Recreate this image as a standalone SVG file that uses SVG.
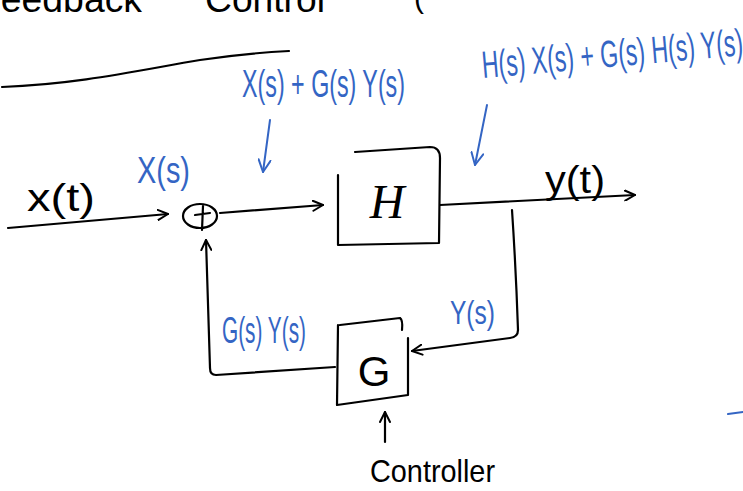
<svg xmlns="http://www.w3.org/2000/svg" width="743" height="491" viewBox="0 0 743 491">
<style>
.ink{fill:none;stroke:#000;stroke-width:2.2;stroke-linecap:round;stroke-linejoin:round}
.blue{fill:none;stroke:#3465c4;stroke-width:2;stroke-linecap:round;stroke-linejoin:round}
.t{font-family:"Liberation Sans",sans-serif;fill:#000}
.b{font-family:"Liberation Sans",sans-serif;fill:#3465c4}
</style>
<defs>
<marker id="ah" viewBox="0 0 12 12" refX="11" refY="6" markerWidth="12" markerHeight="12" markerUnits="userSpaceOnUse" orient="auto">
<path d="M1,1 L11,6 L1,11" fill="none" stroke="#000" stroke-width="2" stroke-linecap="round" stroke-linejoin="round"/>
</marker>
<marker id="bh" viewBox="0 0 14 14" refX="13" refY="7" markerWidth="14" markerHeight="14" markerUnits="userSpaceOnUse" orient="auto">
<path d="M1,1 L13,7 L1,13" fill="none" stroke="#3465c4" stroke-width="2" stroke-linecap="round" stroke-linejoin="round"/>
</marker>
</defs>

<g id="title">
<text class="t" x="-22" y="12" font-size="36" textLength="164" lengthAdjust="spacingAndGlyphs">Feedback</text>
<text class="t" x="205" y="12" font-size="36" textLength="120" lengthAdjust="spacingAndGlyphs">Control</text>
<text class="t" x="414" y="8" font-size="30">(</text>
<path class="ink" d="M2,87 C80,84 140,70 200,60 C240,54 270,52 289,51"/>
</g>

<g id="connectors">
<path class="ink" d="M8,228 L168,214" marker-end="url(#ah)"/>
<path class="ink" d="M220,213 L323,205" marker-end="url(#ah)"/>
<path class="ink" d="M440,205 L635,195" marker-end="url(#ah)"/>
<path class="ink" d="M512,210 Q516,270 518,330 Q518,337 510,338 L412,351" marker-end="url(#ah)"/>
<path class="ink" d="M335,367 L216,375 Q210,375 210,368 L206,240" marker-end="url(#ah)"/>
<path class="ink" d="M385,442 L385,412" marker-end="url(#ah)"/>
<path class="blue" d="M270,120 L263,172" marker-end="url(#bh)"/>
<path class="blue" d="M487,105 L475,165" marker-end="url(#bh)"/>
<path class="blue" d="M728,414 L743,412"/>
</g>

<g id="sum">
<ellipse class="ink" cx="200" cy="216" rx="17" ry="12"/>
<path class="ink" d="M203,206 L202,230 M195,215 L210,213"/>
</g>

<g id="H">
<path class="ink" d="M355,152 L430,147 Q440,147 440,158 L439,243 L338,245 L338,175"/>
<text x="387" y="218" font-size="48" font-style="italic" text-anchor="middle" style="font-family:'Liberation Serif',serif;fill:#000">H</text>
</g>

<g id="G">
<path class="ink" d="M340,325 L400,318 Q403,320 402,330 M408,338 L408,395 L337,405 L338,325"/>
<text class="t" x="374" y="386" font-size="42" text-anchor="middle">G</text>
</g>

<g id="labels">
<text class="t" x="27" y="211" font-size="38" textLength="68" lengthAdjust="spacingAndGlyphs">x(t)</text>
<text class="t" x="545" y="193" font-size="38" textLength="60" lengthAdjust="spacingAndGlyphs">y(t)</text>
<text class="t" x="370" y="482" font-size="32" textLength="125" lengthAdjust="spacingAndGlyphs">Controller</text>
<text class="b" x="137" y="183" font-size="36" textLength="53" lengthAdjust="spacingAndGlyphs">X(s)</text>
<text class="b" x="242" y="97" font-size="38" textLength="163" lengthAdjust="spacingAndGlyphs">X(s) + G(s) Y(s)</text>
<text class="b" x="483" y="78" font-size="38" textLength="262" lengthAdjust="spacingAndGlyphs" transform="rotate(-5 483 78)">H(s) X(s) + G(s) H(s) Y(s)</text>
<text class="b" x="222" y="343" font-size="36" textLength="84" lengthAdjust="spacingAndGlyphs">G(s) Y(s)</text>
<text class="b" x="450" y="324" font-size="34" textLength="45" lengthAdjust="spacingAndGlyphs">Y(s)</text>
</g>
</svg>
